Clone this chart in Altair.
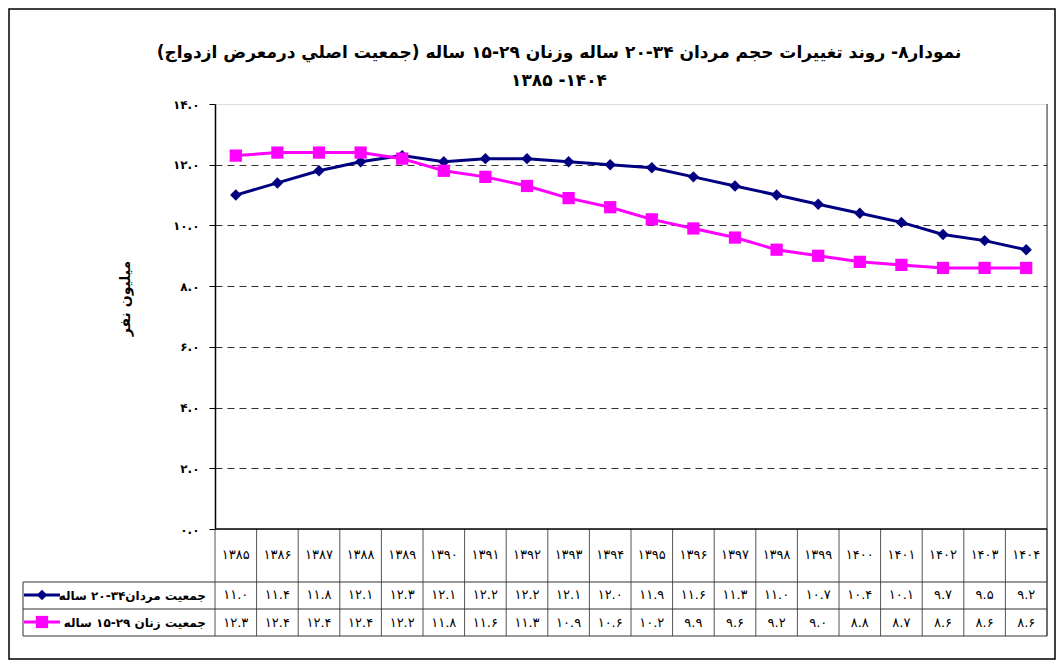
import altair as alt
import pandas as pd

FA = str.maketrans("0123456789", "۰۱۲۳۴۵۶۷۸۹")
RLE, PDF = "\u202B", "\u202C"

years = ["1385", "1386", "1387", "1388", "1389", "1390", "1391", "1392", "1393", "1394",
         "1395", "1396", "1397", "1398", "1399", "1400", "1401", "1402", "1403", "1404"]
men = [11.0, 11.4, 11.8, 12.1, 12.3, 12.1, 12.2, 12.2, 12.1, 12.0,
       11.9, 11.6, 11.3, 11.0, 10.7, 10.4, 10.1, 9.7, 9.5, 9.2]
women = [12.3, 12.4, 12.4, 12.4, 12.2, 11.8, 11.6, 11.3, 10.9, 10.6,
         10.2, 9.9, 9.6, 9.2, 9.0, 8.8, 8.7, 8.6, 8.6, 8.6]
men_label = "جمعیت مردان۳۴-۲۰ ساله"
women_label = "جمعیت زنان ۲۹-۱۵ ساله"
yticks = [0, 2, 4, 6, 8, 10, 12, 14]
ylabels = ["۰.۰", "۲.۰", "۴.۰", "۶.۰", "۸.۰", "۱۰.۰", "۱۲.۰", "۱۴.۰"]
title_lines = [RLE + "نمودار۸- روند تغییرات حجم مردان ۳۴-۲۰ ساله وزنان ۲۹-۱۵ ساله (جمعیت اصلي درمعرض ازدواج)" + PDF,
               "۱۳۸۵ -۱۴۰۴"]
ytitle = RLE + "میلیون نفر" + PDF

FONT = "DejaVu Sans"
NAVY, MAG = "#000080", "#FF00FF"
W, H = 832, 425
HDR_Y, ROW1_Y, ROW2_Y = 451, 491, 518
LINE1, LINE2, LINE3 = 478, 505, 532
LEG_X = -192
TITLE_X, TITLE_Y1, TITLE_Y2 = 344, -51, -23

n = len(years)
long = pd.DataFrame({
    "x": [i + 0.5 for i in range(n)] * 2,
    "v": men + women,
    "s": [men_label] * n + [women_label] * n,
})
table = pd.DataFrame({
    "x": [i + 0.5 for i in range(n)],
    "year": [y.translate(FA) for y in years],
    "m": [f"{v:.1f}".translate(FA) for v in men],
    "w": [f"{v:.1f}".translate(FA) for v in women],
})
bounds = pd.DataFrame({"b": list(range(n + 1))})
one = pd.DataFrame({"a": [0]})

xs = alt.Scale(domain=[0, n], nice=False, zero=False)
ys = alt.Scale(domain=[0, 14], nice=False)
label_expr = "[" + ",".join(f"'{s}'" for s in ylabels) + "][datum.value/2]"

base_x = alt.X("x:Q", scale=xs, axis=None)
color = alt.Color("s:N", scale=alt.Scale(domain=[men_label, women_label], range=[NAVY, MAG]), legend=None)

lines = alt.Chart(long).mark_line(strokeWidth=3, clip=False).encode(
    x=base_x,
    y=alt.Y("v:Q", scale=ys, axis=alt.Axis(
        values=yticks, grid=True, gridDash=[7, 5], gridColor="#333333", gridWidth=1,
        gridOpacity={"condition": {"test": "datum.value === 14 || datum.value === 0", "value": 0}, "value": 1},
        labelExpr=label_expr, labelFont=FONT, labelFontSize=12, labelFontWeight="bold",
        labelColor="black", labelPadding=10, tickSize=6, tickColor="black",
        domainColor="black", domainWidth=1.5,
        title=ytitle, titleFont=FONT, titleFontSize=14, titleFontWeight="bold",
        titleColor="black", titleAngle=-90, titleX=-90, titleY=194,
        titleAlign="center", titleBaseline="middle")),
    color=color,
)
points = alt.Chart(long).mark_point(filled=True, opacity=1, clip=False).encode(
    x=base_x,
    y=alt.Y("v:Q", scale=ys),
    color=color,
    shape=alt.Shape("s:N", scale=alt.Scale(domain=[men_label, women_label], range=["diamond", "square"]), legend=None),
    size=alt.Size("s:N", scale=alt.Scale(domain=[men_label, women_label], range=[130, 150]), legend=None),
)

bottom_axis = alt.Chart(one).mark_rule(color="black", strokeWidth=1.5).encode(
    x=alt.value(0), x2=alt.value(W), y=alt.value(H))
right_border = alt.Chart(one).mark_rule(color="#333333", strokeWidth=1).encode(
    x=alt.value(W), y=alt.value(0), y2=alt.value(LINE3))

col_lines = alt.Chart(bounds).mark_rule(color="#555555", strokeWidth=1).encode(
    x=alt.X("b:Q", scale=xs, axis=None), y=alt.value(H), y2=alt.value(LINE3))
hlines = alt.Chart(pd.DataFrame({"yy": [LINE1, LINE2, LINE3]})).mark_rule(color="#333333", strokeWidth=1).encode(
    x=alt.value(LEG_X), x2=alt.value(W), y=alt.Y("yy:Q", scale=None))
leg_left = alt.Chart(one).mark_rule(color="#333333", strokeWidth=1).encode(
    x=alt.value(LEG_X), y=alt.value(LINE1), y2=alt.value(LINE3))

txt = dict(font=FONT, fontSize=13, color="black", baseline="middle")
year_text = alt.Chart(table).mark_text(**txt).encode(
    x=alt.X("x:Q", scale=xs, axis=None), y=alt.value(HDR_Y), text="year:N")
men_text = alt.Chart(table).mark_text(**txt).encode(
    x=alt.X("x:Q", scale=xs, axis=None), y=alt.value(ROW1_Y), text="m:N")
women_text = alt.Chart(table).mark_text(**txt).encode(
    x=alt.X("x:Q", scale=xs, axis=None), y=alt.value(ROW2_Y + 1), text="w:N")

leg_layers = []
for lab, col, shp, sz, yy in [(men_label, NAVY, "diamond", 110, ROW1_Y), (women_label, MAG, "square", 150, ROW2_Y)]:
    leg_layers.append(alt.Chart(one).mark_rule(color=col, strokeWidth=3).encode(
        x=alt.value(LEG_X + 1), x2=alt.value(LEG_X + 37), y=alt.value(yy)))
    leg_layers.append(alt.Chart(one).mark_point(shape=shp, filled=True, opacity=1, color=col, size=sz).encode(
        x=alt.value(LEG_X + 19), y=alt.value(yy)))
    leg_layers.append(alt.Chart(one).mark_text(font=FONT, fontSize=12, fontWeight="bold", color="black",
                                               align="right", baseline="middle").encode(
        x=alt.value(-9), y=alt.value(yy + 1), text=alt.value(RLE + lab + PDF)))

title_layers = [
    alt.Chart(one).mark_text(font=FONT, fontSize=17, fontWeight="bold", color="black",
                             align="center", baseline="middle").encode(
        x=alt.value(TITLE_X), y=alt.value(ty), text=alt.value(t))
    for t, ty in zip(title_lines, [TITLE_Y1, TITLE_Y2])
]

frame = alt.Chart(one).mark_rect(fillOpacity=0, stroke="black", strokeWidth=1.5).encode(
    x=alt.value(-206), x2=alt.value(W + 8), y=alt.value(-95), y2=alt.value(H + 130))

chart = alt.layer(
    frame, col_lines, hlines, leg_left, right_border, lines, points, bottom_axis,
    year_text, men_text, women_text, *leg_layers, *title_layers
).properties(
    width=W, height=H,
    autosize=alt.AutoSizeParams(type="none"),
    padding={"left": 207, "top": 96, "right": 9, "bottom": 131},
).configure_view(strokeWidth=0).configure(background="white")

chart.save("out.html", embed_options={"renderer": "svg", "actions": False})
